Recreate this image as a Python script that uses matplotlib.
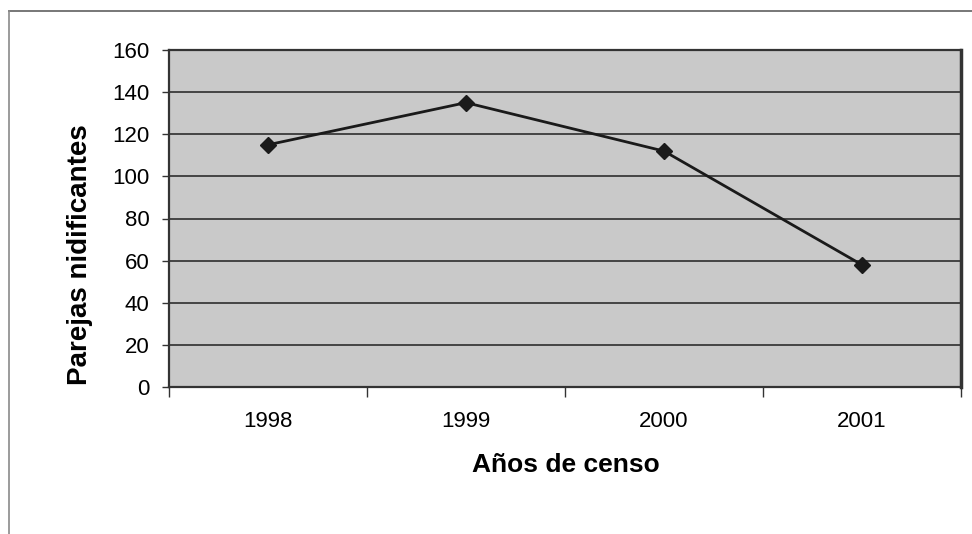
import matplotlib
matplotlib.use("Agg")
import matplotlib.pyplot as plt
from matplotlib.lines import Line2D

# data
years = ["1998", "1999", "2000", "2001"]
pairs = [115, 135, 112, 58]
y_ticks = [0, 20, 40, 60, 80, 100, 120, 140, 160]

plt.rcParams["font.family"] = ["Liberation Sans", "DejaVu Sans"]

W, H = 972, 534
fig = plt.figure(figsize=(W / 100, H / 100), dpi=100)
fig.patch.set_facecolor("white")

# plot area in pixel terms of the reference
left, right, top, bottom = 169, 961, 50, 387
ax = fig.add_axes([left / W, 1 - bottom / H, (right - left) / W, (bottom - top) / H])
ax.set_facecolor("#c9c9c9")

xs = [i + 0.5 for i in range(len(years))]
ax.plot(xs, pairs, color="#1a1a1a", lw=2.0, marker="D", ms=8,
        mfc="#1a1a1a", mec="#1a1a1a", zorder=3)

ax.set_xlim(0, len(years))
ax.set_ylim(0, 160)
ax.set_yticks(y_ticks)
ax.yaxis.grid(True, color="#444444", lw=1.4)
ax.set_axisbelow(True)

# category boundaries carry the tick marks, labels sit at the centres
ax.set_xticks(range(len(years) + 1))
ax.set_xticklabels([])
ax.set_xticks(xs, minor=True)
ax.set_xticklabels(years, minor=True)
ax.tick_params(axis="x", which="major", length=7, width=1, color="#333333",
               direction="out")
ax.tick_params(axis="x", which="minor", length=0, pad=17, labelsize=16)
ax.tick_params(axis="y", length=5, width=1, color="#333333", pad=9,
               labelsize=16)

for side in ["left", "bottom", "top", "right"]:
    ax.spines[side].set_color("#333333")
    ax.spines[side].set_linewidth(1.6)
ax.spines["right"].set_linewidth(2.5)

fig.text(80 / W, 1 - 255 / H, "Parejas nidificantes", rotation=90,
         ha="center", va="center", fontsize=20, fontweight="bold")
fig.text(566 / W, 1 - 465 / H, "Años de censo", ha="center", va="center",
         fontsize=19, fontweight="bold")

# outer chart frame (top and left edges visible in the scan)
fig.add_artist(Line2D([9 / W, 1.0], [1 - 11 / H, 1 - 11 / H],
                      color="#777777", lw=1.4))
fig.add_artist(Line2D([9 / W, 9 / W], [1 - 11 / H, 0.0],
                      color="#8a8a8a", lw=1.2))

fig.savefig("out.png", dpi=100, facecolor=fig.get_facecolor())
